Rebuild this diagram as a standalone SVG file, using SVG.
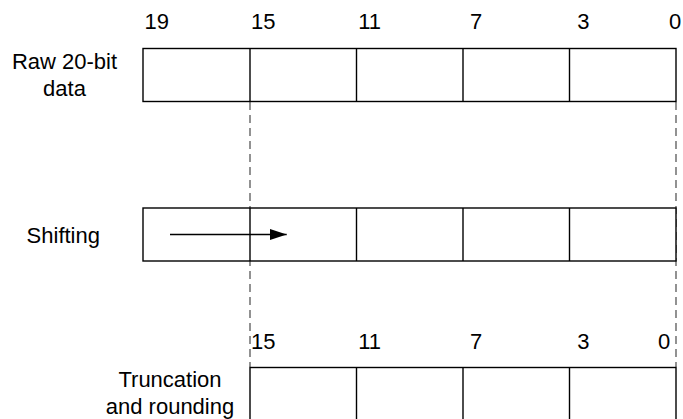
<svg xmlns="http://www.w3.org/2000/svg" width="683" height="419" viewBox="0 0 683 419">
<defs>
<style>
.t{font-family:"Liberation Sans",Arial,sans-serif;font-size:22px;fill:#000;text-anchor:middle}
.box{fill:#fff;stroke:#000;stroke-width:1.4}
.div{stroke:#000;stroke-width:1.4}
.dash{stroke:#777;stroke-width:1.6;stroke-dasharray:8 5;fill:none}
</style>
<marker id="ah" markerWidth="17" markerHeight="11" refX="17" refY="5.5" orient="auto" markerUnits="userSpaceOnUse">
<path d="M0,0 L17,5.5 L0,11 Z" fill="#000"/>
</marker>
</defs>
<rect width="683" height="419" fill="#fff"/>
<g id="connectors">
<line class="dash" x1="250" y1="102" x2="250" y2="367"/>
<line class="dash" x1="676" y1="102" x2="676" y2="367"/>
</g>
<g id="raw">
<text class="t" x="64.5" y="69">Raw 20-bit</text>
<text class="t" x="64.5" y="96">data</text>
<text class="t" x="156.7" y="29">19</text>
<text class="t" x="263.3" y="29">15</text>
<text class="t" x="369.7" y="29">11</text>
<text class="t" x="476" y="29">7</text>
<text class="t" x="583.3" y="29">3</text>
<text class="t" x="675" y="29">0</text>
<rect class="box" x="143" y="48.5" width="533" height="53"/>
<line class="div" x1="250" y1="48.5" x2="250" y2="101.5"/>
<line class="div" x1="356.5" y1="48.5" x2="356.5" y2="101.5"/>
<line class="div" x1="463" y1="48.5" x2="463" y2="101.5"/>
<line class="div" x1="569.5" y1="48.5" x2="569.5" y2="101.5"/>
</g>
<g id="shifting">
<text class="t" x="63.3" y="243">Shifting</text>
<rect class="box" x="143" y="208" width="533" height="53"/>
<line class="div" x1="250" y1="208" x2="250" y2="261"/>
<line class="div" x1="356.5" y1="208" x2="356.5" y2="261"/>
<line class="div" x1="463" y1="208" x2="463" y2="261"/>
<line class="div" x1="569.5" y1="208" x2="569.5" y2="261"/>
<line x1="170" y1="234.5" x2="286.7" y2="234.5" stroke="#000" stroke-width="1.4" marker-end="url(#ah)"/>
</g>
<g id="truncation">
<text class="t" x="170" y="387">Truncation</text>
<text class="t" x="170" y="414">and rounding</text>
<text class="t" x="263.3" y="349">15</text>
<text class="t" x="369.7" y="349">11</text>
<text class="t" x="476" y="349">7</text>
<text class="t" x="583.3" y="349">3</text>
<text class="t" x="664" y="349">0</text>
<rect class="box" x="250" y="367.5" width="426" height="60"/>
<line class="div" x1="356.5" y1="367.5" x2="356.5" y2="420"/>
<line class="div" x1="463" y1="367.5" x2="463" y2="420"/>
<line class="div" x1="569.5" y1="367.5" x2="569.5" y2="420"/>
</g>
</svg>
